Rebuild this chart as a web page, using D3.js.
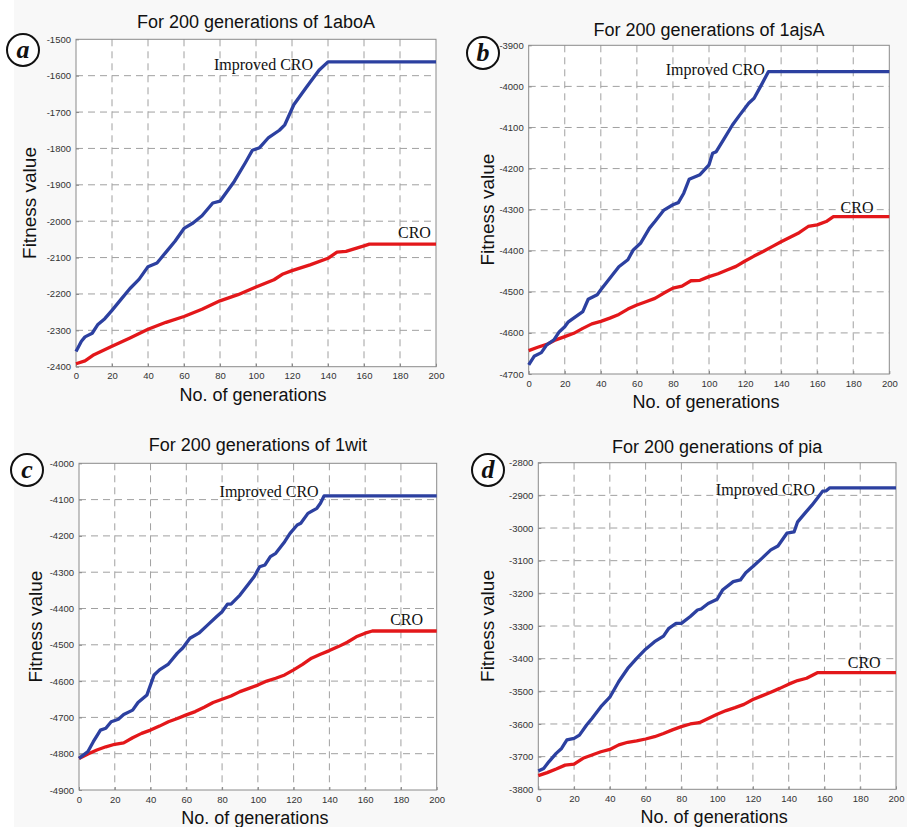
<!DOCTYPE html>
<html>
<head>
<meta charset="utf-8">
<script src="https://cdn.jsdelivr.net/npm/d3@7"></script>
<style>
  html, body { margin: 0; padding: 0; background: #fff; }
  svg { display: block; }
</style>
</head>
<body>
<div id="chart"></div>
<script>
// values: [generation, fitness]
const improvedA = [[0,-2358],[3,-2330],[5,-2318],[9,-2308],[12,-2285],[16,-2268],[20,-2245],[25,-2215],[30,-2185],[35,-2160],[40,-2125],[45,-2115],[50,-2085],[55,-2055],[60,-2020],[65,-2005],[70,-1985],[76,-1950],[80,-1945],[88,-1890],[94,-1840],[98,-1805],[102,-1798],[107,-1770],[113,-1750],[116,-1735],[121,-1680],[128,-1632],[135,-1585],[140,-1562],[200,-1562]];
const croA = [[0,-2392],[5,-2384],[10,-2367],[20,-2344],[30,-2321],[40,-2297],[50,-2278],[60,-2262],[70,-2242],[80,-2219],[90,-2202],[100,-2181],[110,-2161],[115,-2145],[120,-2136],[130,-2120],[140,-2102],[145,-2085],[150,-2083],[160,-2068],[163,-2063],[200,-2063]];

const improvedB = [[0,-4678],[3,-4657],[7,-4648],[10,-4629],[14,-4617],[17,-4597],[20,-4585],[22,-4573],[30,-4548],[33,-4518],[38,-4507],[40,-4495],[45,-4467],[50,-4439],[55,-4422],[58,-4398],[62,-4382],[67,-4345],[70,-4329],[75,-4301],[80,-4288],[83,-4283],[86,-4260],[89,-4226],[95,-4215],[100,-4191],[102,-4163],[104,-4159],[108,-4130],[113,-4094],[117,-4070],[122,-4041],[125,-4029],[129,-3997],[133,-3964],[200,-3964]];
const croB = [[0,-4643],[5,-4635],[10,-4628],[15,-4617],[20,-4609],[25,-4601],[30,-4589],[35,-4578],[40,-4572],[45,-4564],[50,-4555],[55,-4542],[60,-4532],[65,-4524],[70,-4516],[75,-4503],[80,-4491],[85,-4486],[90,-4473],[95,-4472],[100,-4463],[105,-4456],[110,-4447],[115,-4438],[120,-4425],[125,-4413],[130,-4402],[135,-4390],[140,-4378],[145,-4367],[150,-4356],[155,-4341],[160,-4337],[165,-4329],[169,-4317],[200,-4317]];

const improvedC = [[0,-4813],[5,-4794],[8,-4767],[12,-4735],[15,-4730],[18,-4712],[22,-4705],[25,-4692],[30,-4680],[33,-4659],[38,-4638],[42,-4583],[45,-4569],[50,-4553],[55,-4523],[58,-4509],[62,-4482],[67,-4468],[72,-4445],[77,-4422],[80,-4409],[83,-4388],[85,-4388],[90,-4363],[95,-4331],[98,-4312],[101,-4285],[104,-4280],[107,-4257],[110,-4248],[115,-4216],[118,-4193],[122,-4170],[124,-4165],[128,-4138],[133,-4124],[135,-4110],[137,-4090],[200,-4090]];
const croC = [[0,-4813],[5,-4801],[10,-4790],[15,-4781],[20,-4774],[25,-4770],[30,-4756],[35,-4744],[40,-4735],[45,-4724],[50,-4712],[55,-4703],[60,-4693],[65,-4684],[70,-4672],[75,-4659],[80,-4650],[85,-4641],[90,-4629],[95,-4620],[100,-4611],[105,-4600],[110,-4592],[115,-4583],[120,-4569],[125,-4554],[130,-4537],[135,-4526],[140,-4516],[145,-4505],[150,-4493],[155,-4478],[160,-4468],[164,-4462],[200,-4462]];

const improvedD = [[0,-3744],[3,-3736],[6,-3715],[10,-3690],[13,-3675],[16,-3649],[20,-3644],[23,-3634],[27,-3603],[30,-3583],[35,-3547],[40,-3518],[45,-3470],[50,-3430],[55,-3399],[60,-3371],[65,-3348],[70,-3331],[73,-3307],[77,-3292],[80,-3292],[85,-3271],[89,-3251],[91,-3248],[95,-3231],[100,-3218],[103,-3190],[109,-3164],[113,-3159],[116,-3137],[120,-3118],[125,-3093],[130,-3067],[134,-3055],[139,-3016],[143,-3012],[145,-2981],[149,-2955],[153,-2930],[156,-2909],[159,-2887],[161,-2886],[163,-2877],[200,-2877]];
const croD = [[0,-3758],[5,-3749],[10,-3738],[15,-3726],[20,-3723],[25,-3705],[30,-3695],[35,-3685],[40,-3678],[45,-3664],[50,-3656],[55,-3652],[60,-3646],[65,-3639],[70,-3629],[75,-3618],[80,-3608],[85,-3600],[90,-3596],[95,-3583],[100,-3570],[105,-3559],[110,-3550],[115,-3540],[120,-3525],[125,-3514],[130,-3503],[135,-3491],[140,-3478],[145,-3467],[150,-3460],[156,-3443],[200,-3443]];

const titles = ['For 200 generations of 1aboA', 'For 200 generations of 1ajsA', 'For 200 generations of 1wit', 'For 200 generations of pia'];
const letters = ['a', 'b', 'c', 'd'];
const yDomains = [[-2400,-1500], [-4700,-3900], [-4900,-4000], [-3800,-2800]];
const xTicks = [0,20,40,60,80,100,120,140,160,180,200];
const seriesNames = ['Improved CRO', 'CRO'];
// where the series labels sit, in data units [gen, value]
const improvedLabelAt = [[131.7,-1584],[131,-3972],[134,-4093],[154.7,-2899]];
const croLabelAt = [[178.9,-2046],[173,-4308],[174,-4445],[173,-3429]];

const improved = [improvedA, improvedB, improvedC, improvedD];
const cro = [croA, croB, croC, croD];

// layout of the four panels (pixels)
const boxes = [
  {l:76,    r:436,   t:39.3,  b:366.7, titleY:28,  ylabX:29,    badge:[23,50]},
  {l:528.7, r:889.3, t:45.3,  b:374,   titleY:35.5,ylabX:486.7, badge:[483,53]},
  {l:79,    r:436.7, t:463.3, b:790,   titleY:451, ylabX:35,    badge:[27,470]},
  {l:538.3, r:896,   t:462.7, b:789.3, titleY:453, ylabX:486.7, badge:[488,470]}
];

const W = 907, H = 827;
const BLUE = '#2c40a0', RED = '#e3171a';
const SANS = 'Liberation Sans, Arial, sans-serif';
const SERIF = 'Liberation Serif, Times New Roman, serif';

const svg = d3.select('#chart').append('svg').attr('width', W).attr('height', H);
svg.append('rect').attr('x', 14).attr('y', 0).attr('width', W-14).attr('height', H).attr('fill', '#f8f8f8');

boxes.forEach((bx, i) => {
  const x = d3.scaleLinear().domain([0,200]).range([bx.l, bx.r]);
  const y = d3.scaleLinear().domain(yDomains[i]).range([bx.b, bx.t]);
  const yTicks = d3.range(yDomains[i][0], yDomains[i][1] + 1, 100);
  const g = svg.append('g');

  g.append('rect').attr('x', bx.l).attr('y', bx.t).attr('width', bx.r-bx.l).attr('height', bx.b-bx.t).attr('fill', '#fff');

  // dashed grid
  g.selectAll('line.vg').data(xTicks.slice(1,-1)).join('line').attr('class','vg')
    .attr('x1', d=>x(d)).attr('x2', d=>x(d)).attr('y1', bx.t).attr('y2', bx.b)
    .attr('stroke', '#a0a0a0').attr('stroke-width', 1).attr('stroke-dasharray', '7,5');
  g.selectAll('line.hg').data(yTicks.slice(1,-1)).join('line').attr('class','hg')
    .attr('x1', bx.l).attr('x2', bx.r).attr('y1', d=>y(d)).attr('y2', d=>y(d))
    .attr('stroke', '#a0a0a0').attr('stroke-width', 1).attr('stroke-dasharray', '7,5');

  g.append('rect').attr('x', bx.l).attr('y', bx.t).attr('width', bx.r-bx.l).attr('height', bx.b-bx.t)
    .attr('fill', 'none').attr('stroke', '#8a8a8a').attr('stroke-width', 1);

  // axes
  const ax = g.append('g').attr('transform', `translate(0,${bx.b})`)
    .call(d3.axisBottom(x).tickValues(xTicks).tickSize(-3).tickPadding(6));
  const ay = g.append('g').attr('transform', `translate(${bx.l},0)`)
    .call(d3.axisLeft(y).tickValues(yTicks).tickSize(-3).tickPadding(5).tickFormat(d3.format('d')));
  [ax, ay].forEach(a => {
    a.select('.domain').remove();
    a.selectAll('.tick line').attr('stroke', '#8a8a8a');
    a.selectAll('.tick text').attr('font-family', SANS).attr('font-size', 9.5).attr('fill', '#333');
  });
  ay.selectAll('.tick text').text(d => String(d).replace('−','-'));

  // series
  const line = d3.line().x(d=>x(d[0])).y(d=>y(d[1]));
  g.append('path').datum(cro[i]).attr('d', line).attr('fill','none').attr('stroke', RED).attr('stroke-width', 3.3).attr('stroke-linejoin','round');
  g.append('path').datum(improved[i]).attr('d', line).attr('fill','none').attr('stroke', BLUE).attr('stroke-width', 3.3).attr('stroke-linejoin','round');

  // series labels
  g.append('text').attr('x', x(improvedLabelAt[i][0])).attr('y', y(improvedLabelAt[i][1]))
    .attr('text-anchor','end').attr('font-family', SERIF).attr('font-size', 16)
    .attr('fill', '#111').text(seriesNames[0]);
  g.append('text').attr('x', x(croLabelAt[i][0])).attr('y', y(croLabelAt[i][1]))
    .attr('font-family', SERIF).attr('font-size', 16)
    .attr('fill', '#111').text(seriesNames[1]);

  // titles and axis labels
  g.append('text').attr('x', (bx.l+bx.r)/2).attr('y', bx.titleY).attr('text-anchor','middle')
    .attr('font-family', SANS).attr('font-size', 18).attr('fill','#111').text(titles[i]);
  g.append('text').attr('x', (bx.l+bx.r)/2 - 3).attr('y', bx.b + 34).attr('text-anchor','middle')
    .attr('font-family', SANS).attr('font-size', 18).attr('fill','#111').text('No. of generations');
  g.append('text').attr('transform', `translate(${bx.ylabX + 7},${(bx.t+bx.b)/2}) rotate(-90)`).attr('text-anchor','middle')
    .attr('font-family', SANS).attr('font-size', 19).attr('fill','#111').text('Fitness value');

  // panel badge
  g.append('circle').attr('cx', bx.badge[0]).attr('cy', bx.badge[1]).attr('r', 16)
    .attr('fill', '#fff').attr('stroke', '#111').attr('stroke-width', 2);
  g.append('text').attr('x', bx.badge[0]).attr('y', bx.badge[1] + 8).attr('text-anchor','middle')
    .attr('font-family', SERIF).attr('font-weight','bold').attr('font-style','italic')
    .attr('font-size', 26).attr('fill','#111').text(letters[i]);
});
</script>
</body>
</html>
